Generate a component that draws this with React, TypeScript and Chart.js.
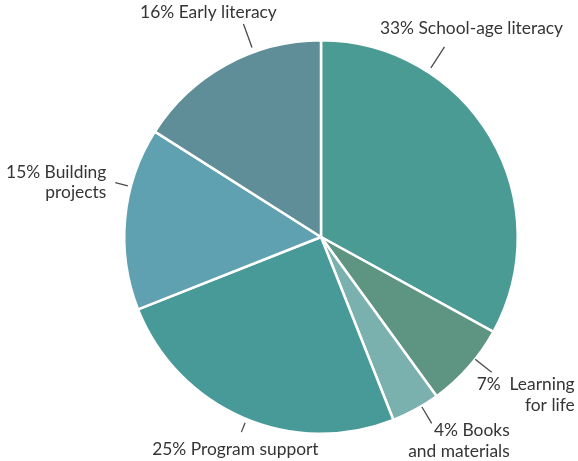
import React, { useEffect, useRef } from "react";
import { Chart, registerables } from "chart.js";

Chart.register(...registerables);

const categories = ["School-age literacy", "Learning for life", "Books and materials", "Program support", "Building projects", "Early literacy"];
const values = [33, 7, 4, 25, 15, 16];
const labelLines = [
  ["33% School-age literacy"],
  ["7%  Learning", "for life"],
  ["4% Books", "and materials"],
  ["25% Program support"],
  ["15% Building", "projects"],
  ["16% Early literacy"],
];
const colors = ["#4a9b94", "#5e9482", "#7ab1ae", "#489a98", "#5fa0b1", "#5f8e98"];

// leader line angle (deg clockwise from top), inner/outer radius offsets, text offset from outer end, alignment
const labelLayout = [
  { angle: 33, r0: 5, r1: 30, dx: 27, dy: -13, align: "center" },
  { angle: 128.4, r0: 0, r1: 21, dx: 83, dy: 18, align: "right" },
  { angle: 149.3, r0: 1, r1: 20, dx: 78, dy: 13, align: "right" },
  { angle: 202.2, r0: 4, r1: 14, dx: -6, dy: 23, align: "center" },
  { angle: 284.8, r0: 3, r1: 16, dx: -9, dy: -5, align: "right" },
  { angle: 340, r0: 5, r1: 30, dx: -35, dy: -6, align: "center" },
];

const FONT = '17.4px Lato';

const labelPlugin = {
  id: "leaderLabels",
  afterDraw(chart: any) {
    const ctx = chart.ctx;
    const meta = chart.getDatasetMeta(0);
    const arc = meta.data[0];
    if (!arc) return;
    const cx = arc.x, cy = arc.y, R = arc.outerRadius;
    ctx.save();
    ctx.strokeStyle = "#4a4a4a";
    ctx.lineWidth = 1.3;
    ctx.fillStyle = "#353535";
    ctx.font = FONT;
    ctx.textBaseline = "alphabetic";
    labelLayout.forEach((l, i) => {
      const a = (l.angle * Math.PI) / 180;
      const sx = Math.sin(a), sy = -Math.cos(a);
      const x0 = cx + sx * (R + l.r0), y0 = cy + sy * (R + l.r0);
      const x1 = cx + sx * (R + l.r1), y1 = cy + sy * (R + l.r1);
      ctx.beginPath();
      ctx.moveTo(x0, y0);
      ctx.lineTo(x1, y1);
      ctx.stroke();
      ctx.textAlign = l.align;
      labelLines[i].forEach((t, k) => {
        ctx.fillText(t, x1 + l.dx, y1 + l.dy + k * 20.5);
      });
    });
    ctx.restore();
  },
};

export default function App() {
  const ref = useRef<HTMLCanvasElement>(null);
  useEffect(() => {
    document.body.style.margin = "0";
    const chart = new Chart(ref.current!, {
      type: "pie",
      data: {
        labels: categories,
        datasets: [
          {
            data: values,
            backgroundColor: colors,
            borderColor: "#ffffff",
            borderWidth: 2.5,
          },
        ],
      },
      options: {
        animation: false,
        responsive: false,
        layout: { padding: { top: 38, bottom: 25, left: 123, right: 59 } },
        plugins: { legend: { display: false }, tooltip: { enabled: false } },
      },
      plugins: [labelPlugin],
    });
    return () => chart.destroy();
  }, []);
  return (
    <div style={{ width: 578, height: 461, background: "#fff" }}>
      <canvas ref={ref} width={578} height={461} />
    </div>
  );
}
